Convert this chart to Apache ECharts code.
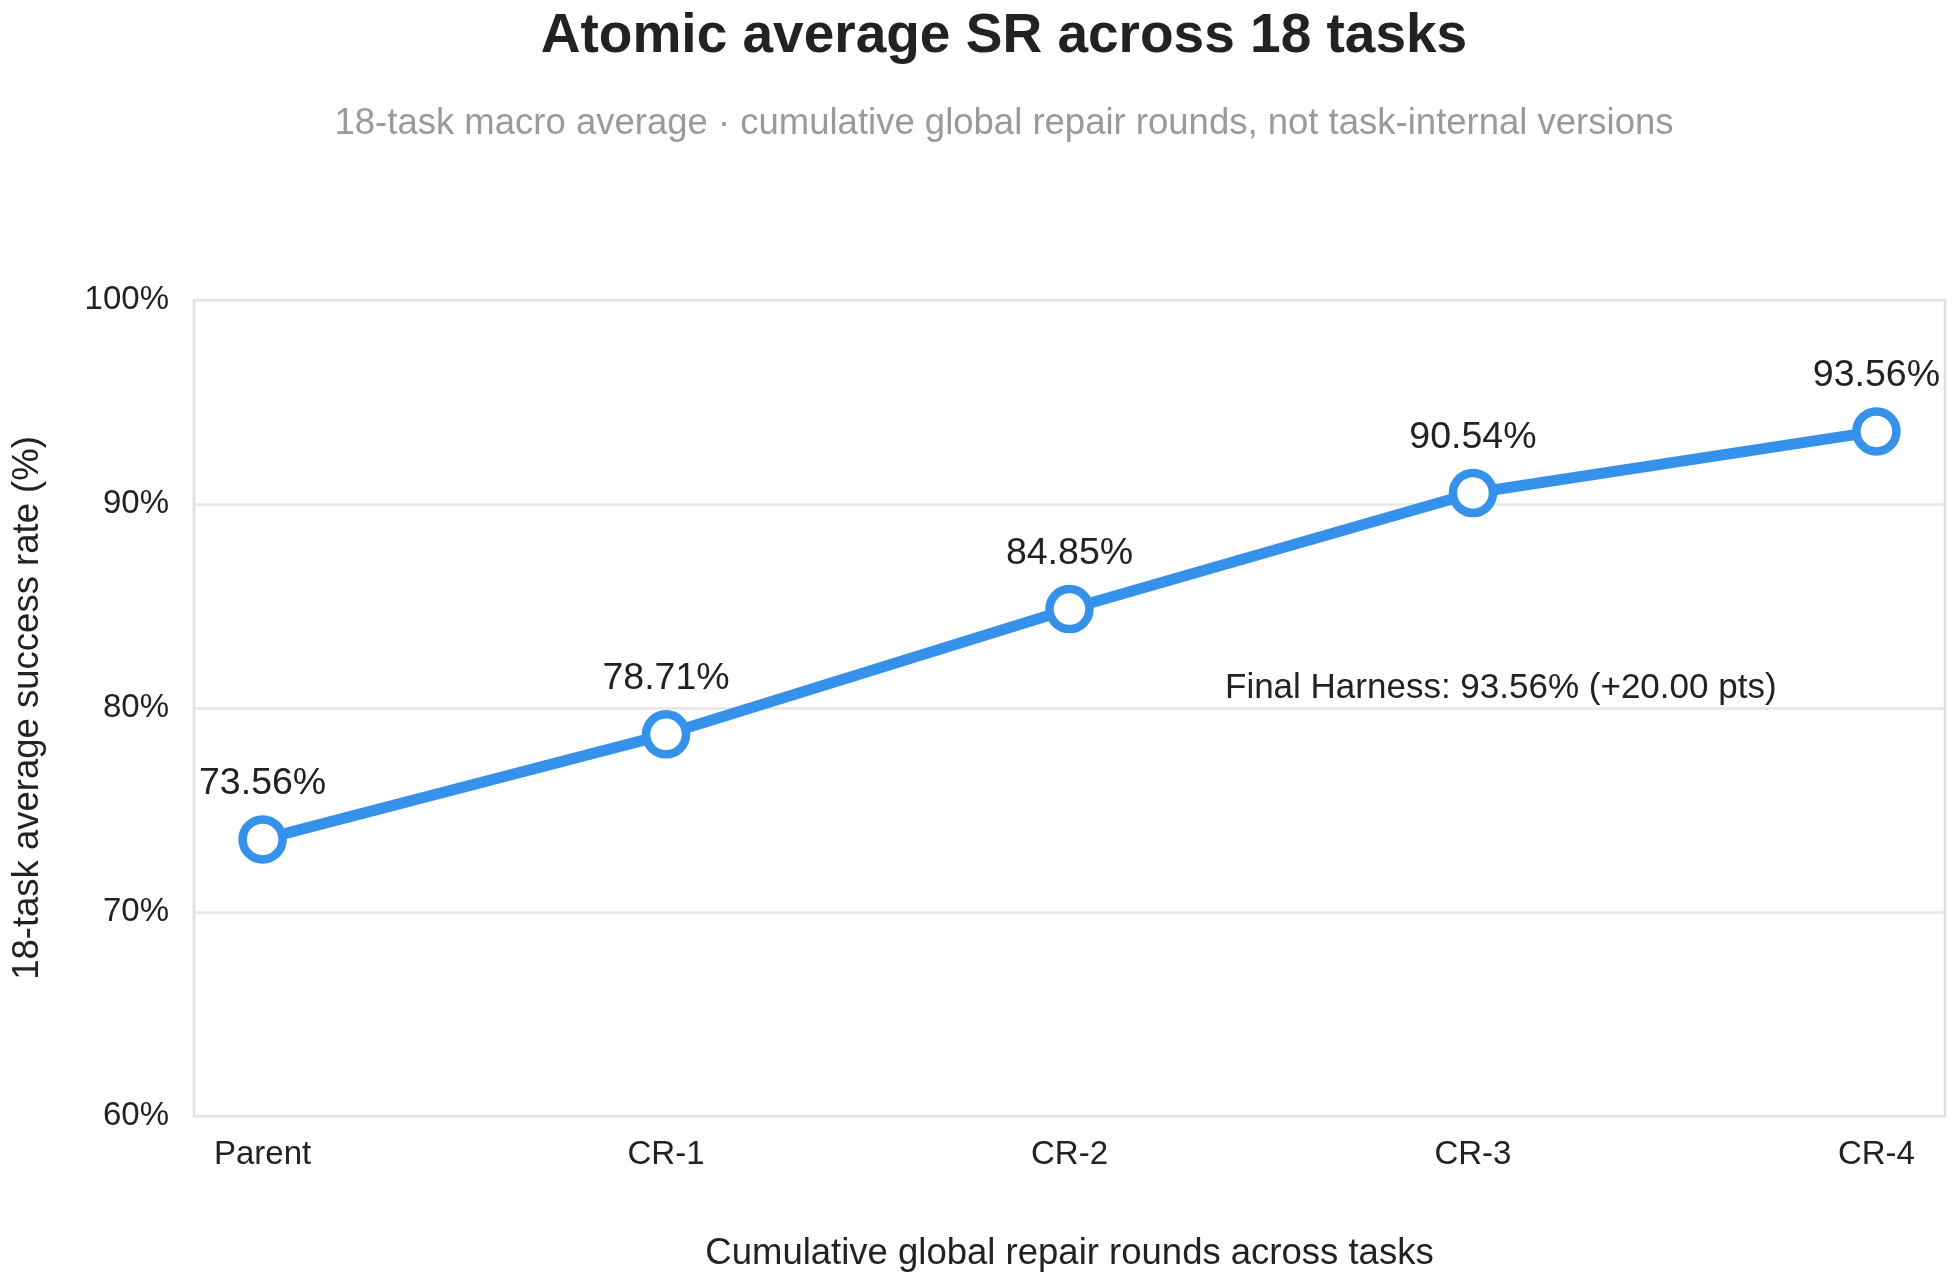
<!DOCTYPE html>
<html>
<head>
<meta charset="utf-8">
<title>Atomic average SR across 18 tasks</title>
<script src="https://cdn.jsdelivr.net/npm/echarts@6.0.0/dist/echarts.min.js"></script>
<style>
  html, body { margin: 0; padding: 0; background: #ffffff; }
  #chart { width: 1958px; height: 1279px; }
</style>
</head>
<body>
<div id="chart"></div>
<script>
var FONT = '"Liberation Sans", Arial, Helvetica, sans-serif';

// data
var rounds = ['Parent', 'CR-1', 'CR-2', 'CR-3', 'CR-4'];
var successRate = [73.56, 78.71, 84.85, 90.54, 93.56];
var yTicks = [60, 70, 80, 90, 100];
var annotationText = 'Final Harness: 93.56% (+20.00 pts)';

var points = [];
for (var i = 0; i < rounds.length; i++) {
    points.push([i, successRate[i]]);
}
var roundIndex = rounds.map(function (r, i) { return i; });

var myChart = echarts.init(document.getElementById('chart'));

myChart.setOption({
    backgroundColor: '#ffffff',
    animation: false,
    textStyle: { fontFamily: FONT },
    graphic: [
        {
            type: 'text',
            x: 1004,
            y: 37,
            style: {
                text: 'Atomic average SR across 18 tasks',
                font: 'bold 55px ' + FONT,
                fill: '#222222',
                align: 'center',
                verticalAlign: 'middle'
            }
        },
        {
            type: 'text',
            x: 1004,
            y: 124,
            style: {
                text: '18-task macro average \u00b7 cumulative global repair rounds, not task-internal versions',
                font: '36.5px ' + FONT,
                fill: '#9a9a9a',
                align: 'center',
                verticalAlign: 'middle'
            }
        },
        {
            type: 'text',
            x: 1225,
            y: 688,
            z: 10,
            style: {
                text: annotationText,
                font: '35px ' + FONT,
                fill: '#222222',
                align: 'left',
                verticalAlign: 'middle'
            }
        }
    ],
    grid: {
        left: 194,
        right: 13,
        top: 300,
        bottom: 163,
        show: true,
        borderColor: '#e0e0e0',
        borderWidth: 2.5
    },
    xAxis: {
        type: 'value',
        min: -0.17,
        max: 4.17,
        name: 'Cumulative global repair rounds across tasks',
        nameLocation: 'middle',
        nameGap: 119,
        nameTextStyle: { fontSize: 36.5, color: '#222222', fontFamily: FONT },
        axisLine: { show: false },
        axisTick: { show: false },
        splitLine: { show: false },
        axisLabel: {
            customValues: roundIndex,
            margin: 22,
            fontSize: 33,
            color: '#222222',
            fontFamily: FONT,
            formatter: function (v) { return rounds[Math.round(v)]; }
        }
    },
    yAxis: {
        type: 'value',
        min: yTicks[0],
        max: yTicks[yTicks.length - 1],
        interval: 10,
        name: '18-task average success rate (%)',
        nameLocation: 'middle',
        nameGap: 148,
        nameTextStyle: { fontSize: 36.5, color: '#222222', fontFamily: FONT },
        axisLine: { show: false },
        axisTick: { show: false },
        splitLine: { lineStyle: { color: '#e6e6e6', width: 2.5 } },
        axisLabel: {
            margin: 25,
            fontSize: 33,
            color: '#222222',
            fontFamily: FONT,
            formatter: '{value}%'
        }
    },
    series: [{
        type: 'line',
        data: points,
        symbol: 'circle',
        symbolSize: 40,
        lineStyle: { color: '#3591ea', width: 11 },
        itemStyle: { color: '#ffffff', borderColor: '#3591ea', borderWidth: 8.5 },
        label: {
            show: true,
            position: 'top',
            distance: 12,
            fontSize: 37.5,
            color: '#222222',
            fontFamily: FONT,
            formatter: function (p) { return p.value[1].toFixed(2) + '%'; }
        },
        z: 3
    }]
});
</script>
</body>
</html>
